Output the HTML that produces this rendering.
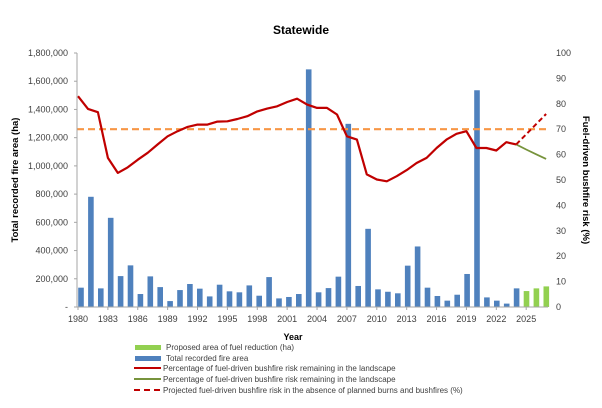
<!DOCTYPE html>
<html><head><meta charset="utf-8"><style>
html,body{margin:0;padding:0;background:#fff;}
svg text{font-family:"Liberation Sans",Arial,sans-serif;fill:#404040;}
</style></head><body>
<svg width="602" height="403" xmlns="http://www.w3.org/2000/svg">
<text x="301" y="34" text-anchor="middle" font-size="12" font-weight="bold" style="fill:#000">Statewide</text>
<g id="grid"></g>
<g id="bars"></g>
<g id="lines"></g>
<g id="axes"></g>
<text transform="translate(18,180) rotate(-90)" text-anchor="middle" font-size="9.5" font-weight="bold" style="fill:#000">Total recorded fire area (ha)</text>
<text transform="translate(583,180) rotate(90)" text-anchor="middle" font-size="9.5" font-weight="bold" style="fill:#000">Fuel-driven  bushfire  risk  (%)</text>
<text x="293" y="340" text-anchor="middle" font-size="9" font-weight="bold" style="fill:#000">Year</text>
<g font-size="8">
 <g><rect x="135" y="345" width="26" height="5" fill="#92d050"/><text x="166" y="350">Proposed area of fuel reduction (ha)</text></g>
 <g><rect x="135" y="356" width="26" height="5" fill="#4f81bd"/><text x="166" y="361">Total recorded fire area</text></g>
 <g><line x1="134" y1="368" x2="161" y2="368" stroke="#c00000" stroke-width="2"/><text x="163" y="371">Percentage of fuel-driven bushfire risk remaining in the landscape</text></g>
 <g><line x1="134" y1="379" x2="161" y2="379" stroke="#77933c" stroke-width="2"/><text x="163" y="382">Percentage of fuel-driven bushfire risk remaining in the landscape</text></g>
 <g><line x1="134" y1="390" x2="161" y2="390" stroke="#c00000" stroke-width="2" stroke-dasharray="6,4"/><text x="163" y="393">Projected fuel-driven bushfire risk in the absence of planned burns and bushfires (%)</text></g>
</g>
</svg>
<script>
const years=[1980,1981,1982,1983,1984,1985,1986,1987,1988,1989,1990,1991,1992,1993,1994,1995,1996,1997,1998,1999,2000,2001,2002,2003,2004,2005,2006,2007,2008,2009,2010,2011,2012,2013,2014,2015,2016,2017,2018,2019,2020,2021,2022,2023,2024,2025,2026,2027];
const fireArea=[137000,781000,132000,632000,219000,295000,92000,217000,141000,42000,120000,163000,130000,75000,158000,111000,104000,153000,80000,212000,61000,71000,92000,1684000,104000,134000,215000,1298000,149000,554000,125000,108000,97000,293000,429000,137000,78000,45000,87000,234000,1536000,68000,45000,24000,132000];
const proposedYears=[2025,2026,2027];
const proposedArea=[113000,132000,146000];
const riskRemaining=[83,78,76.7,58.7,52.8,55,58,60.7,64,67.2,69.2,70.9,71.8,71.8,73,73.1,74,75.1,77,78.1,79,80.7,82,79.7,78.4,78.4,75.8,67.2,65.9,52.2,50.2,49.5,51.5,53.9,56.7,58.7,62.6,65.9,68.2,69.2,62.6,62.6,61.6,64.9,64];
const greenYears=[2024,2025,2026,2027];
const greenRisk=[64,62,60.1,58.3];
const projYears=[2024,2025,2026,2027];
const projRisk=[64,68,72,76];
const threshold=70;
const leftTicks=[0,200000,400000,600000,800000,1000000,1200000,1400000,1600000,1800000];
const rightTicks=[0,10,20,30,40,50,60,70,80,90,100];
const xLabelYears=[1980,1983,1986,1989,1992,1995,1998,2001,2004,2007,2010,2013,2016,2019,2022,2025];

const NS="http://www.w3.org/2000/svg";
const X0=77,X1=548,Y0=307,Y1=53;
const xL=y=>78+(y-1980)*9.96;
const xB=y=>81+(y-1980)*9.9;
const yL=v=>Y0-(v/1800000)*(Y0-Y1);
const yR=v=>Y0-(v/100)*(Y0-Y1);
function mk(tag,attrs,parent){const e=document.createElementNS(NS,tag);for(const k in attrs)e.setAttribute(k,attrs[k]);document.getElementById(parent).appendChild(e);return e;}

fireArea.forEach((v,i)=>{const y=years[i];
 const r=mk('rect',{x:xB(y)-2.8,y:yL(v),width:5.6,height:Y0-yL(v),fill:'#4f81bd'},'bars');
 
 });
proposedArea.forEach((v,i)=>{const y=proposedYears[i];
 const r=mk('rect',{x:xB(y)-2.8,y:yL(v),width:5.6,height:Y0-yL(v),fill:'#92d050'},'bars');
 
 });

const th=mk('line',{x1:X0,x2:X1,y1:yR(threshold),y2:yR(threshold),stroke:'#f79646','stroke-width':2.2,'stroke-dasharray':'7,4'},'lines');


function pts(ys,vs){return vs.map((v,i)=>xL(ys[i]).toFixed(1)+','+yR(v).toFixed(1)).join(' ');}
const rl=mk('polyline',{points:pts(years,riskRemaining),fill:'none',stroke:'#c00000','stroke-width':2.2,'stroke-linejoin':'round'},'lines');


const gl=mk('polyline',{points:pts(greenYears,greenRisk),fill:'none',stroke:'#77933c','stroke-width':1.8},'lines');


const pl=mk('polyline',{points:pts(projYears,projRisk),fill:'none',stroke:'#c00000','stroke-width':2,'stroke-dasharray':'5,3'},'lines');



const ax=mk('line',{x1:X0,x2:X0,y1:Y1,y2:Y0,stroke:'#a6a6a6'},'axes');


const bx=mk('line',{x1:X0,x2:X1,y1:Y0,y2:Y0,stroke:'#a6a6a6'},'axes');


leftTicks.forEach(v=>{
 mk('line',{x1:X0-3,x2:X0,y1:yL(v),y2:yL(v),stroke:'#a6a6a6'},'axes');
 const t=mk('text',{x:68,y:yL(v)+3,'text-anchor':'end','font-size':9},'axes');
 t.textContent=v===0?'-':v.toLocaleString('en-US');
 
 });
rightTicks.forEach(v=>{
 const t=mk('text',{x:556,y:yR(v)+3,'text-anchor':'start','font-size':9},'axes');
 t.textContent=v;
 
 });
xLabelYears.forEach(y=>{
 mk('line',{x1:xL(y),x2:xL(y),y1:Y0,y2:Y0+3,stroke:'#a6a6a6'},'axes');
 const t=mk('text',{x:xL(y),y:Y0+15,'text-anchor':'middle','font-size':9},'axes');
 t.textContent=y;
 
 });
</script>
</body></html>
